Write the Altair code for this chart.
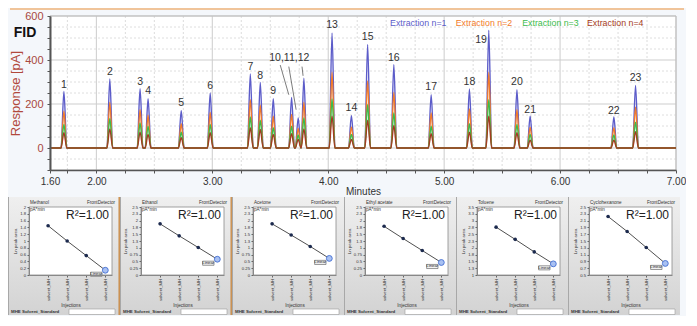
import altair as alt
import pandas as pd

SANS = "Liberation Sans, Arial, sans-serif"

# ---------------- chromatogram (FID) ----------------
peak_times = [1.720, 2.116, 2.377, 2.446, 2.732, 2.982, 3.328, 3.414, 3.526, 3.684, 3.741, 3.790,
              4.033, 4.200, 4.340, 4.566, 4.888, 5.218, 5.385, 5.628, 5.742, 6.464, 6.651]
heights_n1 = [257, 314, 269, 224, 170, 250, 337, 298, 224, 230, 137, 317,
              523, 147, 471, 380, 242, 268, 535, 265, 144, 141, 284]
heights_n2 = [167, 207, 174, 149, 111, 162, 220, 194, 144, 152, 90, 207,
              344, 96, 305, 253, 159, 177, 344, 174, 95, 92, 185]
heights_n3 = [107, 134, 114, 99, 72, 107, 141, 126, 92, 99, 59, 137,
              223, 62, 197, 159, 99, 111, 220, 107, 62, 59, 117]
heights_n4 = [69, 87, 72, 62, 47, 69, 92, 84, 62, 65, 39, 87,
              144, 39, 126, 102, 65, 72, 144, 69, 36, 36, 74]
series_names = ["Extraction n=1", "Extraction n=2", "Extraction n=3", "Extraction n=4"]
series_colors = ["#5c5cc9", "#f27b2a", "#3dbb4c", "#a43b22"]

label_texts = ["1", "2", "3", "4", "5", "6", "7", "8", "9", "10,11,12", "13", "14", "15",
               "16", "17", "18", "19", "20", "21", "22", "23"]
label_times = [1.720, 2.116, 2.377, 2.446, 2.732, 2.982, 3.328, 3.414, 3.526, 3.664, 4.033,
               4.200, 4.340, 4.566, 4.888, 5.218, 5.318, 5.628, 5.742, 6.464, 6.651]
label_values = [287, 347, 302, 257, 205, 283, 367, 328, 257, 407, 558,
                182, 505, 407, 277, 301, 490, 299, 174, 170, 316]

leader_t1 = [3.586, 3.660, 3.774]
leader_v1 = [377, 370, 370]
leader_t2 = [3.660, 3.723, 3.783]
leader_v2 = [242, 174, 328]

legend_times = [4.533, 5.100, 5.673, 6.232]
legend_value = 567

x_tick_values = [1.6, 1.75, 2.0, 2.25, 2.5, 2.75, 3.0, 3.25, 3.5, 3.75, 4.0, 4.25, 4.5,
                 4.75, 5.0, 5.25, 5.5, 5.75, 6.0, 6.25, 6.5, 6.75, 7.0]
y_tick_values = [-100, -50, 0, 50, 100, 150, 200, 250, 300, 350, 400, 450, 500, 550, 600]

# ---------------- calibration panels ----------------
injections = [1, 2, 3, 4]
panel_names = ["Methanol", "Ethanol", "Acetone", "Ethyl acetate", "Toluene", "Cyclohexanone"]
methanol_ln = [1.45, 1.00, 0.57, 0.14]
ethanol_ln = [1.88, 1.44, 1.01, 0.58]
acetone_ln = [1.88, 1.47, 1.05, 0.61]
ethyl_acetate_ln = [1.79, 1.34, 0.90, 0.46]
toluene_ln = [2.76, 2.31, 1.85, 1.41]
cyclohexanone_ln = [2.22, 1.78, 1.31, 0.84]
panel_domains = [[0, 2], [0, 2.5], [0, 2.5], [0, 2.5], [1, 3.5], [0.5, 2.5]]
ticks_0_2 = [0, 0.2, 0.4, 0.6, 0.8, 1, 1.2, 1.4, 1.6, 1.8, 2]
ticks_0_25 = [0, 0.25, 0.5, 0.75, 1, 1.25, 1.5, 1.75, 2, 2.25, 2.5]
ticks_1_35 = [1, 1.25, 1.5, 1.75, 2, 2.25, 2.5, 2.75, 3, 3.25, 3.5]
ticks_05_25 = [0.5, 0.7, 0.9, 1.1, 1.3, 1.5, 1.7, 1.9, 2.1, 2.3, 2.5]

HALF = 0.025   # drawing half-width of a peak (minutes)
E = 21         # shift of the chromatogram plot inside its cell
TW, TH = 626, 154


def trace(heights):
    rows = [(1.6, 0.0), (7.0, 0.0)]
    for t, h in zip(peak_times, heights):
        rows += [(t - HALF, 0.0), (t, float(h)), (t + HALF, 0.0)]
    return pd.DataFrame(rows, columns=["t", "v"]).sort_values("t").reset_index(drop=True)


xscale = alt.Scale(domain=[1.6, 7.0], range=[E, E + TW], nice=False, zero=False)
yscale = alt.Scale(domain=[-100, 600], nice=False, zero=False)

x_axis = alt.Axis(
    values=x_tick_values,
    labelExpr="(datum.value == 1.6 || datum.value % 1 == 0) ? format(datum.value, '.2f') : ''",
    title="Minutes", titleFont=SANS, titleFontSize=10, titleFontWeight="normal",
    titleColor="#333333", titlePadding=0,
    labelFont=SANS, labelFontSize=10, labelColor="#333333", labelPadding=3,
    labelOverlap=False, labelFlush=False,
    tickSize=3, tickColor="#555555", domainColor="#555555", domainWidth=1.5,
    grid=False, zindex=1,
)
y_axis = alt.Axis(
    values=y_tick_values, offset=-E,
    labelExpr="(datum.value >= 0 && datum.value % 200 == 0) ? '' + datum.value : ''",
    title="Response [pA]", titleFont=SANS, titleFontSize=13, titleFontWeight="normal",
    titleColor="#b1493c", titlePadding=2.5,
    labelFont=SANS, labelFontSize=11, labelColor="#a8483d", labelPadding=4, labelOverlap=False,
    tickSize=3, tickColor="#555555", domainColor="#555555", domainWidth=2,
    grid=False, zindex=1,
)


def TX(field="t"):
    return alt.X(f"{field}:Q", scale=xscale, axis=x_axis)


def TY(field="v"):
    return alt.Y(f"{field}:Q", scale=yscale, axis=y_axis)


one = pd.DataFrame({"k": [0]})
layers = []
# plot background
layers.append(alt.Chart(one).mark_rect(fill="white").encode(
    x=alt.value(E), x2=alt.value(E + TW), y=alt.value(0), y2=alt.value(TH)))
# grid lines from the tick lists
xg = pd.DataFrame({"t": x_tick_values[1:]})
layers.append(alt.Chart(xg).transform_filter("datum.t % 1 != 0").mark_rule(
    color="#dcdcdc", strokeDash=[2, 2], strokeWidth=1).encode(x=TX(), y=alt.value(0), y2=alt.value(TH)))
layers.append(alt.Chart(xg).transform_filter("datum.t % 1 == 0").mark_rule(
    color="#cccccc", strokeWidth=1).encode(x=TX(), y=alt.value(0), y2=alt.value(TH)))
yg = pd.DataFrame({"v": y_tick_values[1:]})
layers.append(alt.Chart(yg).transform_filter("datum.v % 200 != 0").mark_rule(
    color="#dedede", strokeDash=[2, 2], strokeWidth=1).encode(y=TY(), x=alt.value(E), x2=alt.value(E + TW)))
layers.append(alt.Chart(yg).transform_filter("datum.v % 200 == 0").mark_rule(
    color="#cdcdcd", strokeWidth=1).encode(y=TY(), x=alt.value(E), x2=alt.value(E + TW)))
# frame
layers.append(alt.Chart(one).mark_rect(fillOpacity=0, stroke="#bdbdbd", strokeWidth=1).encode(
    x=alt.value(E), x2=alt.value(E + TW), y=alt.value(0), y2=alt.value(TH)))

for hs, col in zip([heights_n1, heights_n2, heights_n3, heights_n4], series_colors):
    layers.append(
        alt.Chart(trace(hs)).mark_line(color=col, strokeWidth=1.4, interpolate="monotone").encode(
            x=TX(), y=TY())
    )

lab_df = pd.DataFrame({"t": label_times, "v": label_values, "label": label_texts})
layers.append(
    alt.Chart(lab_df).mark_text(font=SANS, fontSize=10.5, color="#333333", baseline="middle").encode(
        x=TX(), y=TY(), text="label:N")
)
lead_df = pd.DataFrame({"t": leader_t1, "v": leader_v1, "t2": leader_t2, "v2": leader_v2})
layers.append(
    alt.Chart(lead_df).mark_rule(color="#444444", strokeWidth=0.7).encode(
        x=TX(), y=TY(), x2="t2:Q", y2="v2:Q")
)
leg_df = pd.DataFrame({"t": legend_times, "v": [legend_value] * 4, "name": series_names})
layers.append(
    alt.Chart(leg_df).mark_text(font=SANS, fontSize=8.8, align="left", baseline="middle").encode(
        x=TX(), y=TY(), text="name:N",
        color=alt.Color("name:N", scale=alt.Scale(domain=series_names, range=series_colors), legend=None),
    )
)
layers.append(
    alt.Chart(one).mark_text(text="FID", font=SANS, fontSize=14, fontWeight="bold", color="#111111",
                             align="center", baseline="middle").encode(x=alt.value(E - 25), y=alt.value(17))
)
layers.append(
    alt.Chart(one).mark_rule(color="#f0c49a", strokeWidth=2).encode(
        x=alt.value(-19), x2=alt.value(E + TW + 8), y=alt.value(-7))
)

top = alt.layer(*layers).properties(width=E + TW, height=TH)

# ---------------- panels ----------------
grad = alt.Gradient(
    gradient="linear",
    stops=[alt.GradientStop(color="#efefef", offset=0), alt.GradientStop(color="#d3d3d3", offset=1)],
    x1=0, x2=0, y1=0, y2=1,
)
PW, PH = 83, 68
BOX = "M-1,-0.36L1,-0.36L1,0.36L-1,0.36Z"


def panel(name, vals, dom, ticks, divider):
    df = pd.DataFrame({"inj": injections, "lnA": vals})
    xs = alt.Scale(domain=[0, 4.35], nice=False, zero=False)
    ys = alt.Scale(domain=dom, nice=False, zero=False)
    xa = alt.Axis(values=injections, labelExpr="'solvent_MH'", labelAngle=-90, labelFont=SANS,
                  labelFontSize=4.2, labelColor="#333333", labelPadding=1.5, labelOverlap=False,
                  tickSize=2, tickColor="#666666", domainColor="#888888", grid=False,
                  title="Injections", titleFont=SANS, titleFontSize=4.6, titleFontWeight="normal",
                  titleColor="#333333", titlePadding=2, zindex=1)
    ya = alt.Axis(values=ticks, format="~g", labelFont=SANS, labelFontSize=4.2, labelColor="#333333",
                  labelPadding=1.5, labelOverlap=False, tickSize=2, tickColor="#666666",
                  domainColor="#888888", grid=False,
                  title="Ln peak area", titleFont=SANS, titleFontSize=4.4, titleFontWeight="normal",
                  titleColor="#333333", titlePadding=2, zindex=1)
    PX = alt.X("inj:Q", scale=xs, axis=xa)
    PY = alt.Y("lnA:Q", scale=ys, axis=ya)
    L = []
    L.append(alt.Chart(one).mark_rect(fill=grad).encode(
        x=alt.value(-21), x2=alt.value(PW + 8), y=alt.value(-10), y2=alt.value(PH + 40)))
    L.append(alt.Chart(one).mark_rule(color="#a8a8a8", strokeWidth=1).encode(
        x=alt.value(-20.5), y=alt.value(-10), y2=alt.value(PH + 40)))
    L.append(alt.Chart(one).mark_rect(fill="white", stroke="#8a8a8a", strokeWidth=0.8).encode(
        x=alt.value(0), x2=alt.value(PW), y=alt.value(0), y2=alt.value(PH)))
    if divider:
        L.append(alt.Chart(one).mark_rule(color="#c98a45", strokeWidth=1.4).encode(
            x=alt.value(PW + 7.2), y=alt.value(-10), y2=alt.value(PH + 40)))
    L.append(alt.Chart(df).mark_line(color="#222222", strokeWidth=0.8).encode(x=PX, y=PY))
    L.append(alt.Chart(df).transform_filter("datum.inj < 4").mark_circle(
        size=13, color="#1c2a4e", opacity=1).encode(x=PX, y=PY))
    L.append(alt.Chart(df).transform_filter("datum.inj == 4").mark_point(
        shape=BOX, size=130, filled=True, fill="#f2f2f2", stroke="#555555", strokeWidth=0.6,
        opacity=1, xOffset=-9, yOffset=4).encode(x=PX, y=PY))
    L.append(alt.Chart(df).transform_filter("datum.inj == 4").mark_text(
        text="Linear", font=SANS, fontSize=4.3, color="#222222", dx=-9, dy=4, baseline="middle").encode(
        x=PX, y=PY))
    L.append(alt.Chart(df).transform_filter("datum.inj == 4").mark_circle(
        size=34, fill="#a9c1f2", stroke="#4f78d6", strokeWidth=1, opacity=1).encode(x=PX, y=PY))
    for txt, xv, yv, al in [(name, 1, -4.5, "left"), ("FrontDetector", PW + 3, -4.5, "right"),
                            ("pA*min", 1, 2.5, "left")]:
        L.append(alt.Chart(one).mark_text(text=txt, font=SANS, fontSize=4.6, color="#333333",
                                          align=al, baseline="middle").encode(
            x=alt.value(xv), y=alt.value(yv)))
    L.append(alt.Chart(one).mark_text(text="R²=1.00", font=SANS, fontSize=12, color="#222222",
                                      align="right", baseline="middle").encode(
        x=alt.value(PW - 3), y=alt.value(8)))
    L.append(alt.Chart(one).mark_rect(fill="white", stroke="#9a9a9a", strokeWidth=0.6).encode(
        x=alt.value(40), x2=alt.value(PW + 3), y=alt.value(PH + 34), y2=alt.value(PH + 39.5)))
    L.append(alt.Chart(one).mark_text(text="MHE Solvent_Standard", font=SANS, fontSize=4.4,
                                      fontWeight="bold", color="#333333", align="left",
                                      baseline="middle").encode(
        x=alt.value(-18), y=alt.value(PH + 37)))
    return alt.layer(*L).properties(width=PW, height=PH)


panel_vals = [methanol_ln, ethanol_ln, acetone_ln, ethyl_acetate_ln, toluene_ln, cyclohexanone_ln]
panel_ticks = [ticks_0_2, ticks_0_25, ticks_0_25, ticks_0_25, ticks_1_35, ticks_05_25]
panels = [panel(n, v, d, t, i < 2) for i, (n, v, d, t) in
          enumerate(zip(panel_names, panel_vals, panel_domains, panel_ticks))]

chart = alt.vconcat(top, alt.hconcat(*panels, spacing=0), spacing=0).properties(
    padding=0, background="#f4f7fb"
).configure_view(strokeWidth=0)

chart.save("out.html", embed_options={"renderer": "svg", "actions": False})
